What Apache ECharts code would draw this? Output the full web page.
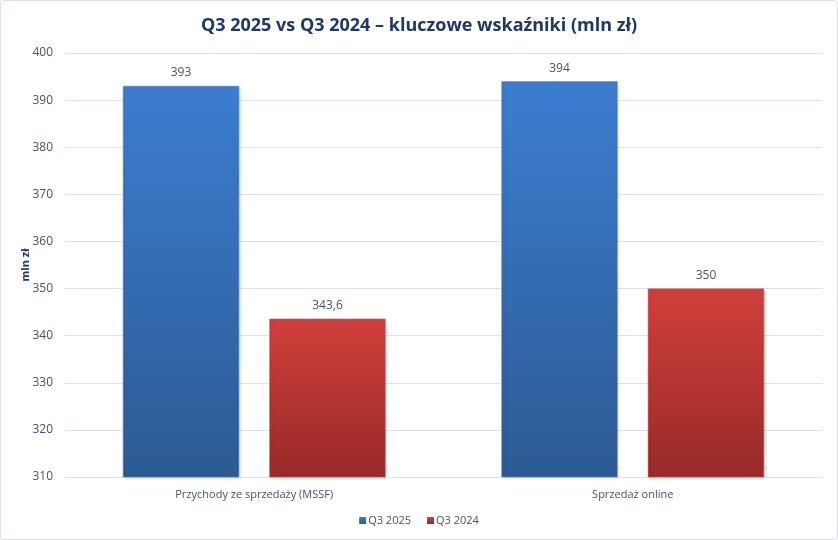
<!DOCTYPE html>
<html>
<head>
<meta charset="utf-8">
<script src="https://cdn.jsdelivr.net/npm/echarts@6/dist/echarts.min.js"></script>
<style>
html,body{margin:0;padding:0;background:#fff;}
#wrap{position:absolute;left:0;top:0;width:836px;height:538px;border:1px solid #d6e0ee;border-radius:3px;}
#c{width:838px;height:540px;position:absolute;left:0;top:0;}
</style>
</head>
<body>
<div id="wrap"></div>
<div id="c"></div>
<script>
const categories = ['Przychody ze sprzedaży (MSSF)', 'Sprzedaż online'];
const seriesNames = ['Q3 2025', 'Q3 2024'];
const q3_2025 = [393, 394];
const q3_2024 = [343.6, 350];
const yMin = 310, yMax = 400, yStep = 10;

const chart = echarts.init(document.getElementById('c'), null, {renderer: 'canvas'});
const font = '"Open Sans", "Noto Sans", sans-serif';
const labelColor = '#44546a';
function grad(top, bottom) {
  return new echarts.graphic.LinearGradient(0, 0, 0, 1, [
    {offset: 0, color: top}, {offset: 1, color: bottom}
  ]);
}
const fmt = v => String(v.value !== undefined ? v.value : v).replace('.', ',');
chart.setOption({
  backgroundColor: 'transparent',
  animation: false,
  title: {
    text: 'Q3 2025 vs Q3 2024 – kluczowe wskaźniki (mln zł)',
    left: 'center', top: 12,
    textStyle: {fontFamily: font, fontSize: 18, fontWeight: 'bold', color: '#1f3864'}
  },
  legend: {
    bottom: 9, left: 'center',
    itemWidth: 7, itemHeight: 7, itemGap: 16,
    icon: 'rect',
    itemStyle: {borderWidth: 0, shadowBlur: 0, shadowOffsetX: 0, shadowOffsetY: 0},
    textStyle: {fontFamily: font, fontSize: 11, color: labelColor, padding: [0, 0, 0, -3]},
    data: seriesNames
  },
  grid: {left: 65, right: 16, top: 53, bottom: 63, containLabel: false},
  xAxis: {
    type: 'category', data: categories,
    axisLine: {lineStyle: {color: '#d9e3f1', width: 1}},
    axisTick: {show: false},
    axisLabel: {fontFamily: font, fontSize: 11, color: labelColor, margin: 12}
  },
  yAxis: {
    type: 'value', min: yMin, max: yMax, interval: yStep,
    name: 'mln zł', nameLocation: 'middle', nameGap: 34, nameRotate: 90,
    nameMoveOverlap: false,
    nameTextStyle: {fontFamily: font, fontSize: 11, fontWeight: 'bold', color: '#1f3864'},
    axisLine: {show: false}, axisTick: {show: false},
    axisLabel: {fontFamily: font, fontSize: 12, color: labelColor, margin: 12},
    splitLine: {lineStyle: {color: '#d9e3f1', width: 1}}
  },
  series: [
    {
      name: seriesNames[0], type: 'bar', data: q3_2025,
      barGap: '26%', barCategoryGap: '30.6%',
      itemStyle: {color: grad('#3c7dd0', '#2c5a94'), borderColor: '#5b8fd6', borderWidth: 0.5,
        shadowColor: 'rgba(0,0,0,0.18)', shadowBlur: 3, shadowOffsetX: 1, shadowOffsetY: 1},
      label: {show: true, position: 'top', distance: 7, formatter: fmt,
        fontFamily: font, fontSize: 12, color: labelColor}
    },
    {
      name: seriesNames[1], type: 'bar', data: q3_2024,
      itemStyle: {color: grad('#d13f3b', '#982a28'), borderColor: '#d85a56', borderWidth: 0.5,
        shadowColor: 'rgba(0,0,0,0.18)', shadowBlur: 3, shadowOffsetX: 1, shadowOffsetY: 1},
      label: {show: true, position: 'top', distance: 7, formatter: fmt,
        fontFamily: font, fontSize: 12, color: labelColor}
    }
  ],
  color: ['#2e66b3', '#b83330']
});
</script>
</body>
</html>
